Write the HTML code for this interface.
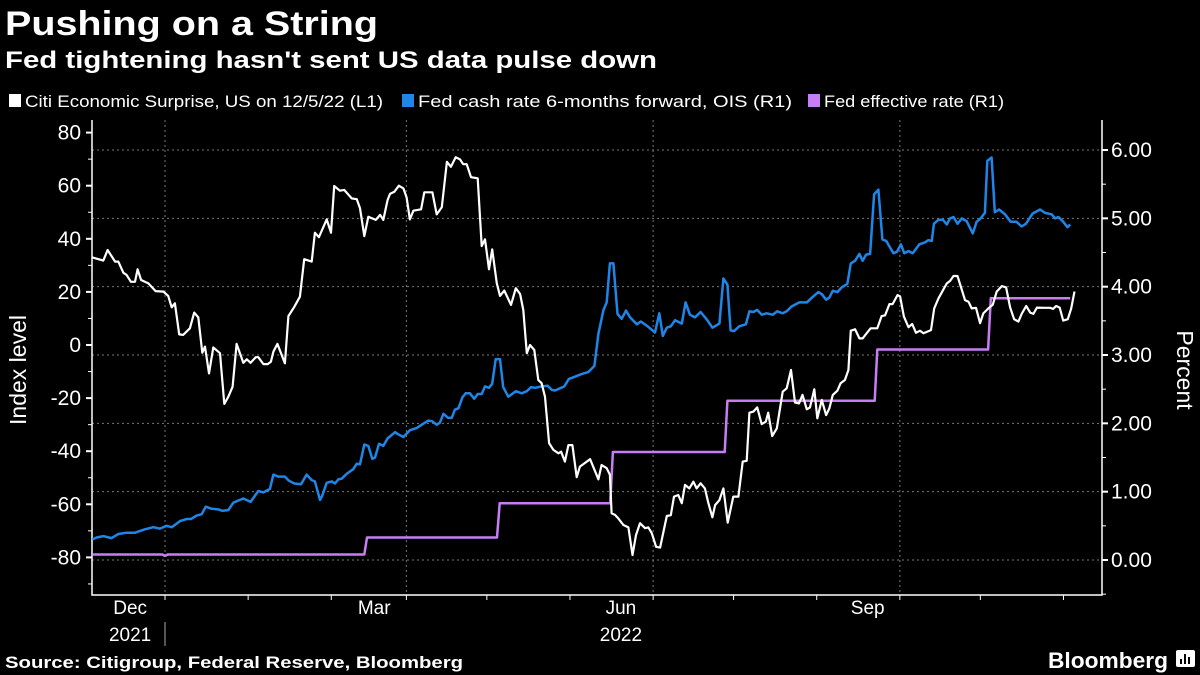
<!DOCTYPE html>
<html><head><meta charset="utf-8"><style>
html,body{margin:0;padding:0;background:#000;}
svg{display:block;font-family:"Liberation Sans",sans-serif;}
</style></head><body>
<svg id="chart" width="1200" height="675" viewBox="0 0 1200 675" xmlns="http://www.w3.org/2000/svg">
<rect width="1200" height="675" fill="#000"/>
<text x="5" y="35" fill="#fff" font-size="34" font-weight="bold" textLength="373" lengthAdjust="spacingAndGlyphs">Pushing on a String</text>
<text x="5" y="68" fill="#fff" font-size="24" font-weight="bold" textLength="652" lengthAdjust="spacingAndGlyphs">Fed tightening hasn't sent US data pulse down</text>
<g>
<g><rect x="9" y="94" width="12" height="13" fill="#fff"/><text x="25" y="107" fill="#fff" font-size="17" textLength="358" lengthAdjust="spacingAndGlyphs">Citi Economic Surprise, US on 12/5/22 (L1)</text></g>
<g><rect x="402" y="94" width="12" height="13" fill="#1f86e8"/><text x="418" y="107" fill="#fff" font-size="17" textLength="374" lengthAdjust="spacingAndGlyphs">Fed cash rate 6-months forward, OIS (R1)</text></g>
<g><rect x="808" y="94" width="12" height="13" fill="#c77df3"/><text x="824" y="107" fill="#fff" font-size="17" textLength="180" lengthAdjust="spacingAndGlyphs">Fed effective rate (R1)</text></g>
</g>
<g id="grid"></g>
<g id="axes"></g>
<g id="series"></g>
<text transform="translate(26,370) rotate(-90)" text-anchor="middle" fill="#fff" font-size="23">Index level</text>
<text transform="translate(1177,370) rotate(90)" text-anchor="middle" fill="#fff" font-size="23">Percent</text>
<text x="5" y="668" fill="#fff" font-size="17" font-weight="bold" textLength="458" lengthAdjust="spacingAndGlyphs">Source: Citigroup, Federal Reserve, Bloomberg</text>
<text x="1048" y="668" fill="#fff" font-size="22" font-weight="bold" textLength="120" lengthAdjust="spacingAndGlyphs">Bloomberg</text>
<g><rect x="1176" y="650" width="19" height="17" rx="2" fill="#fff"/><rect x="1180" y="659" width="2" height="5" fill="#000"/><rect x="1184" y="654" width="2" height="10" fill="#000"/><rect x="1188" y="657" width="2" height="7" fill="#000"/></g>
</svg>
<script>
// days since 2021-12-01
const citiDays=[-27.1,-23,-21.4,-18.6,-17.4,-15.5,-14.3,-12.7,-11.2,-10.2,-8.9,-6.2,-3.5,-0.6,1.2,2.5,3.7,5.3,6.8,9.3,10.9,12.4,13.9,14.9,16.4,18,20.5,22.1,23.6,25.2,26.7,29.2,30.5,31.9,33.8,34.8,36.7,38.3,39.5,40.4,41.9,44.7,46,48.2,50.3,51.9,54.7,55.9,57.4,60.3,61.9,63.1,65.2,66.8,69.6,71.5,72.7,74.3,75.8,78.6,80.2,81.4,83,83.9,85.5,87.2,88.9,90.1,91.3,92.6,95.5,96.7,99.7,101.3,103.2,105.1,106.6,108.4,110,111.2,112.5,114.1,116.6,118.1,119.3,120.8,122,123.7,124.9,126.5,129,130.8,132.4,133.6,134.9,136.1,137.7,139.2,140.4,141.7,143.2,144.8,146.7,147.7,149.1,150.4,151.9,153.5,154.7,158.5,161.6,162.8,164.7,165.9,166.5,167.8,169,170.9,172.8,174.3,175.6,177.1,179,180.2,181.5,183.1,184.6,187.1,188.6,189.8,191.4,192.7,193.9,195.5,197,198.2,199.7,201.3,202.6,204.1,205.1,206.7,208.2,209.8,211.9,213.8,215.4,216.9,217.9,219.4,220.8,222.5,224,224.9,226.4,228.1,230.3,231.8,233.4,234.9,236.4,237.7,239.3,240.5,242.1,243.2,244.9,246.5,247.7,249,250.7,251.9,253.5,254.8,255.7,257.3,258.9,260.1,261.6,263.1,265.6,267.2,268.5,270.1,271.3,273.1,274.1,275.5,277.2,278.6,280,281.5,282.8,285.6,286.8,288.4,291.5,292.7,294,295.5,298.3,299.6,300.8,302.4,303.9,305.1,307,308.6,310.1,312,313.6,315.1,316.6,318.2,319.5,321.1,322.6,323.8,325.1,327.6,330,331.1,332.3,333.6,334.9,336.6,337.9,339.1];
const citiValues=[33,31.8,35.8,31.4,31.4,27.2,26.4,23.8,23.8,28.5,24.5,23.2,20.3,20.1,18.5,14.2,15.7,4,3.8,6.3,12.2,10.4,-2.9,-0.6,-10.7,-0.9,-3.1,-22.2,-19.5,-15.7,0.4,-6.7,-5.4,-6.7,-4.6,-4.6,-7.2,-7.2,-6.3,-2.5,0.4,-6.9,10.9,14.4,18.2,32.3,31.4,42.3,40.6,47.3,42.3,59.9,58.1,58.4,55.2,54.9,51.5,41,48.3,47.1,49,47.1,54.6,56.9,57.7,60,59,55.6,47.3,50.6,51.1,57.5,57.5,49.2,51.9,69,67.1,70.7,69.9,68.1,68.1,63.2,62.8,37.3,39.8,28.5,36,23.2,18.5,20.5,15.1,21.4,19.2,13.2,-3.1,0,-1.9,-13.2,-14.4,-19.5,-37,-39.5,-40.8,-40.2,-43.9,-37.7,-37.7,-49.8,-45.8,-43,-50.6,-45.2,-46.4,-48.9,-63.4,-64,-65.3,-67.8,-68.7,-79.1,-71.6,-67.1,-69,-68.7,-70.9,-76,-76.3,-64.4,-64.1,-57.1,-56.5,-59.6,-52.7,-54,-51.5,-54,-52.1,-54,-59.6,-64.9,-60.3,-58.4,-54,-66.9,-57.1,-57.1,-43.9,-43.6,-25.5,-25.1,-23.5,-29.8,-28.9,-25.5,-34.3,-31.4,-17.6,-16.3,-9.4,-21.7,-22,-18.8,-24.2,-23.5,-16.7,-27.6,-20.7,-26.4,-23.9,-18.8,-17.2,-14.4,-13.2,-9.4,5.4,5.9,2.5,2.5,4.4,6.3,6.3,10.9,11.2,15.4,15.4,18.8,18.3,10.7,6.7,7.9,4.6,5.4,4.4,5.6,13.8,17.6,23.2,24.1,26,26,16.9,16.3,13.8,14,8.2,11.9,13.8,15.1,20.1,22.2,21.7,14.2,9.7,8.8,11.9,14.7,12.2,11.7,14.1,14,14,13.6,14.7,14.1,9.2,9.7,13.8,20.1];
const fwdDays=[-27.1,-25.5,-23,-19.9,-17.4,-14.3,-11.2,-7.5,-4.4,-1.9,0.6,2.5,5.6,8.1,9.7,11.8,13.7,15.2,17.4,19.9,21.4,23.6,25.5,27.3,29.2,31.9,34.8,36.7,39.1,40.4,42.2,44.7,46.2,48.2,50.7,52.8,54.7,55.9,57.8,58.6,60.3,62.2,63.4,64.6,65.9,67.7,70.2,71.5,72.7,74.3,75.8,77.3,78.3,79.8,81.4,83,85.8,87,88.9,91.3,93.8,95.7,98.2,99.7,101.3,102.5,103.8,105.6,106.9,108.1,109.4,110.9,112.1,113.7,115.3,116.6,118.1,119.3,120.8,122,123.3,124.9,126.1,128,130.8,133,134.9,136.5,138,140.4,142.7,144.2,145.4,148.9,150.6,152.6,155.3,157.8,160.1,161.6,163.5,164.7,165.9,167.2,168.7,170.3,171.9,173.4,175.9,177.4,179.6,182.7,184.3,185.6,187.1,188.6,190.2,192.7,194.1,195.7,197.6,199.7,202.2,204.1,206.7,208.2,209.7,210.9,212.2,214.1,216.6,217.9,219.4,220.8,222.5,224.3,226.6,228.3,230.3,231.8,233.6,236.5,239.3,241.5,243.6,244.9,246.5,247.7,249,250.7,252.3,254.4,255.7,257.3,258.9,260.1,261.4,262.9,264.4,266,267.5,268.9,271.6,272.9,274.4,275.6,277.2,278.8,281.3,283.4,284.6,285.9,286.7,288.4,290,291.5,292.7,294,295.5,297.1,298.9,301.2,302.6,304.1,305.7,306.6,308.2,309.4,311,313.2,315.3,317.5,319.4,321,323.5,326.3,328.1,330.6,331.9,333.1,334.7,336.5,337.5];
const fwdValues=[0.3,0.33,0.35,0.32,0.38,0.4,0.4,0.45,0.48,0.46,0.5,0.48,0.57,0.6,0.6,0.65,0.67,0.78,0.75,0.74,0.72,0.73,0.84,0.87,0.9,0.85,1.01,0.99,1.04,1.25,1.22,1.22,1.16,1.12,1.11,1.25,1.17,1.15,0.88,0.94,1.13,1.15,1.12,1.18,1.19,1.26,1.33,1.41,1.4,1.69,1.67,1.48,1.5,1.7,1.67,1.78,1.87,1.84,1.8,1.9,1.93,1.98,2.04,2.03,1.98,2.01,2.14,2.08,2.08,2.2,2.22,2.38,2.44,2.44,2.36,2.43,2.43,2.54,2.52,2.58,2.94,2.94,2.53,2.39,2.47,2.44,2.47,2.53,2.52,2.54,2.55,2.49,2.48,2.54,2.65,2.68,2.72,2.75,2.84,3.31,3.66,3.77,4.34,4.34,3.6,3.53,3.65,3.55,3.45,3.49,3.43,3.33,3.61,3.28,3.4,3.42,3.51,3.46,3.77,3.59,3.55,3.63,3.51,3.4,3.46,4.12,4.03,3.36,3.35,3.42,3.45,3.64,3.63,3.66,3.59,3.61,3.59,3.64,3.61,3.64,3.71,3.77,3.77,3.85,3.92,3.89,3.81,3.84,3.94,3.92,3.99,4.04,4.34,4.38,4.48,4.38,4.47,4.48,5.35,5.42,4.69,4.67,4.49,4.51,4.62,4.49,4.52,4.49,4.62,4.65,4.68,4.67,4.92,4.98,4.98,4.91,5,5.02,4.92,5,4.96,4.78,4.95,5,5.08,5.84,5.89,5.09,5.13,5.06,4.95,4.95,4.88,4.92,5.07,5.13,5.08,5.06,5,5.02,4.96,4.87,4.91];
const effDays=[-27.1,-1,0,1,74.3,75.3,123.8,124.8,166,167,208.7,209.7,264.6,265.6,306.9,307.9,337.5];
const effValues=[0.08,0.08,0.06,0.08,0.08,0.33,0.33,0.83,0.83,1.58,1.58,2.33,2.33,3.08,3.08,3.83,3.83];
const leftTicks=[80,60,40,20,0,-20,-40,-60,-80];
const rightTicks=[0,1,2,3,4,5,6];
const monthLabels=["Dec","Mar","Jun","Sep"];
const monthLabelDays=[-13,78,170,262];
const yearLabels=["2021","2022"];
const yearLabelDays=[-13,170];
const monthGridDays=[0,90,182,274];
const minorTickDays=[31,62,120,151,212,243,304,335];

const NS="http://www.w3.org/2000/svg";
const X0=92,X1=1102,YT=120,YB=595;
const xS=d=>165+d*2.682;
const yL=v=>345-v*2.655;
const yR=v=>560-v*68.33;
function mk(tag,attrs,parent){const e=document.createElementNS(NS,tag);for(const k in attrs)e.setAttribute(k,attrs[k]);parent.appendChild(e);return e;}
const grid=document.getElementById('grid'),axes=document.getElementById('axes'),series=document.getElementById('series');

rightTicks.forEach(v=>{
  const l=mk('line',{x1:X0,x2:X1,y1:yR(v),y2:yR(v),stroke:'#777','stroke-width':1,'stroke-dasharray':'2,3'},grid);
  
  
});
monthGridDays.forEach(d=>{
  const l=mk('line',{x1:xS(d),x2:xS(d),y1:YT,y2:YB,stroke:'#777','stroke-width':1,'stroke-dasharray':'2,3'},grid);
  
  
});
// axis lines
const al=mk('path',{d:`M${X0},${YT}V${YB}H${X1}V${YT}`,fill:'none',stroke:'#fff','stroke-width':1.5},axes);


// left ticks
for(let v=-90;v<=80;v+=10){
  const major=v%20===0;
  const t=mk('line',{x1:X0-(major?6:4),x2:X0,y1:yL(v),y2:yL(v),stroke:'#fff','stroke-width':major?2:1},axes);
  
  
}
leftTicks.forEach(v=>{
  const t=mk('text',{x:81,y:yL(v)+7,'text-anchor':'end',fill:'#fff','font-size':21},axes);
  t.textContent=v;
  
  
});
for(let v=-0.5;v<=6.01;v+=0.5){
  const major=Math.abs(v-Math.round(v))<0.01;
  const t=mk('line',{x1:X1,x2:X1+(major?6:4),y1:yR(v),y2:yR(v),stroke:'#fff','stroke-width':major?2:1},axes);
  
  
}
rightTicks.forEach(v=>{
  const t=mk('text',{x:1111,y:yR(v)+7,fill:'#fff','font-size':21},axes);
  t.textContent=v.toFixed(2);
  
  
});
monthGridDays.concat(minorTickDays).forEach(d=>{
  const t=mk('line',{x1:xS(d),x2:xS(d),y1:YB,y2:YB+5,stroke:'#fff','stroke-width':1},axes);
  
  
});
monthLabels.forEach((m,i)=>{
  const t=mk('text',{x:xS(monthLabelDays[i]),y:614,'text-anchor':'middle',fill:'#fff','font-size':19},axes);
  t.textContent=m;
  
  
});
yearLabels.forEach((m,i)=>{
  const t=mk('text',{x:xS(yearLabelDays[i]),y:641,'text-anchor':'middle',fill:'#fff','font-size':19},axes);
  t.textContent=m;
  
  
});
const sep=mk('line',{x1:xS(0),x2:xS(0),y1:622,y2:646,stroke:'#aaa','stroke-width':1},axes);



function line(days,vals,ys,color,w,name){
  const d=days.map((dd,i)=>(i?'L':'M')+xS(dd).toFixed(1)+','+ys(vals[i]).toFixed(1)).join('');
  const p=mk('path',{d:d,fill:'none',stroke:color,'stroke-width':w,'stroke-linejoin':'round'},series);
  
  
}
line(effDays,effValues,yR,'#c77df3',2.5,'fed-effective-rate-line');
line(fwdDays,fwdValues,yR,'#1f86e8',2.5,'fed-forward-rate-line');
line(citiDays,citiValues,yL,'#ffffff',2.2,'citi-surprise-line');
</script>
</body></html>
